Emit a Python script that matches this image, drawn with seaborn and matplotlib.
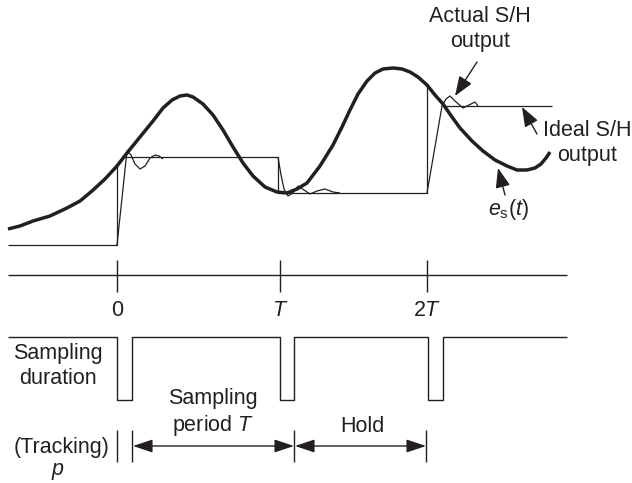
import numpy as np
import pandas as pd
import matplotlib
matplotlib.use("Agg")
import matplotlib.pyplot as plt
import seaborn as sns

# --- data (diagram coordinates, image-like: y grows downward) ---
# input signal e_s(t)
es_x = [8, 20, 33, 50, 67, 80, 92, 105, 117, 127, 140, 153, 163, 172, 180, 187, 193,
        203, 213, 223, 233, 243, 253, 265, 277, 287, 297, 307, 320, 333, 342, 350,
        358, 367, 375, 383, 393, 402, 410, 418, 427, 435, 443, 452, 460, 472, 483,
        495, 507, 517, 527, 535, 541, 546, 550]
es_y = [229, 226, 221, 216, 208, 201, 191, 179, 166, 153, 137, 121, 108, 100, 96, 95, 97,
        104, 115, 130, 147, 163, 176, 187, 192, 193, 189, 183, 166, 145, 127, 110,
        94, 81, 73, 69, 68, 69, 72, 77, 85, 95, 104, 117, 128, 141, 151,
        160, 166, 170, 170, 168, 164, 158, 152]

# ideal sample-and-hold staircase
ideal_x = [8, 117, 117]
ideal_y = [245, 245, 166]
hold1_x = [125, 278, 278, 427, 427]
hold1_y = [157, 157, 193, 193, 87]
hold2_x = [443, 552]
hold2_y = [106, 106]

# actual S/H output (finite acquisition + ringing)
act0_x = [117, 127, 131, 135, 140, 145, 150, 155, 159, 163]
act0_y = [245, 151, 155, 164, 169, 166, 158, 155, 156, 159]
act1_x = [278, 281, 284, 288, 293, 298, 304, 310, 317, 325, 333, 340]
act1_y = [157, 175, 189, 196, 193, 186, 190, 194, 191, 189, 192, 193]
act2_x = [427, 442, 446, 450, 455, 463, 469, 475, 478]
act2_y = [193, 106, 99, 96, 101, 108, 105, 102, 106]

# time axis and sampling pulses
tick_pos = [117, 280, 427]
tick_lab = ["0", "$T$", "2$T$"]
pulse_x = [8, 117, 117, 132, 132, 280, 280, 294, 294, 428, 428, 443, 443, 567]
pulse_y = [337, 337, 400, 400, 337, 337, 400, 400, 337, 337, 400, 400, 337, 337]

sns.set_style("white")
plt.rcParams["font.family"] = ["Liberation Sans", "DejaVu Sans"]
plt.rcParams["mathtext.fontset"] = "custom"
plt.rcParams["mathtext.it"] = "Liberation Sans:italic"
plt.rcParams["mathtext.rm"] = "Liberation Sans"

fig = plt.figure(figsize=(6.32, 4.83), dpi=100)
ax = fig.add_axes([0, 0, 1, 1])
ink = "#231f20"
thin = 0.9
fs = 15.5
ls = 1.2


def path(xs, ys, lw=thin):
    d = pd.DataFrame({"x": xs, "y": ys})
    sns.lineplot(data=d, x="x", y="y", sort=False, estimator=None, color=ink,
                 lw=lw, ax=ax, solid_joinstyle="round", solid_capstyle="butt")


path(ideal_x, ideal_y)
path(hold1_x, hold1_y)
path(hold2_x, hold2_y)
path(act0_x, act0_y)
path(act1_x, act1_y)
path(act2_x, act2_y)
path(es_x, es_y, lw=2.5)

# time axis
path([8, 567], [275, 275], lw=1.0)
for p, lab in zip(tick_pos, tick_lab):
    path([p, p], [260, 292], lw=1.0)
    ax.text(p, 311, lab, ha="center", va="center", fontsize=fs, color=ink)

# sampling pulse train
path(pulse_x, pulse_y, lw=1.0)

ax.text(58, 366, "Sampling\nduration", ha="center", va="center", fontsize=fs,
        color=ink, linespacing=ls)
ax.text(213, 413, "Sampling\nperiod $T$", ha="center", va="center", fontsize=fs,
        color=ink, linespacing=ls)
ax.text(62, 447, "(Tracking)", ha="center", va="center", fontsize=fs, color=ink)
ax.text(58, 472, "$p$", ha="center", va="center", fontsize=fs, color=ink)
ax.text(362, 426, "Hold", ha="center", va="center", fontsize=fs, color=ink)

# dimension bars and arrows
for bx in [117, 132, 294, 426]:
    path([bx, bx], [430, 462], lw=1.0)
arrow_kw = dict(arrowstyle="<|-|>,head_length=1.2,head_width=0.4", color=ink,
                lw=1.0, shrinkA=0, shrinkB=0)
ax.annotate("", xy=(294, 446), xytext=(133, 446), arrowprops=arrow_kw)
ax.annotate("", xy=(426, 446), xytext=(295, 446), arrowprops=arrow_kw)

# callouts
call_kw = dict(arrowstyle="-|>,head_length=1.2,head_width=0.45", color=ink,
               lw=1.0, shrinkA=0, shrinkB=0)
ax.text(480, 29, "Actual S/H\noutput", ha="center", va="center", fontsize=fs,
        color=ink, linespacing=ls)
ax.annotate("", xy=(455, 96), xytext=(477, 62), arrowprops=call_kw)
ax.text(587, 143, "Ideal S/H\noutput", ha="center", va="center", fontsize=fs,
        color=ink, linespacing=ls)
ax.annotate("", xy=(522, 107), xytext=(537, 134), arrowprops=call_kw)
ax.text(508, 210, "$e_\\mathrm{s}(t)$", ha="center", va="center", fontsize=fs,
        color=ink)
ax.annotate("", xy=(498, 168), xytext=(505, 195), arrowprops=call_kw)

ax.set_xlim(0, 632)
ax.set_ylim(483, 0)
ax.set_axis_off()
fig.savefig("out.png", dpi=100)
